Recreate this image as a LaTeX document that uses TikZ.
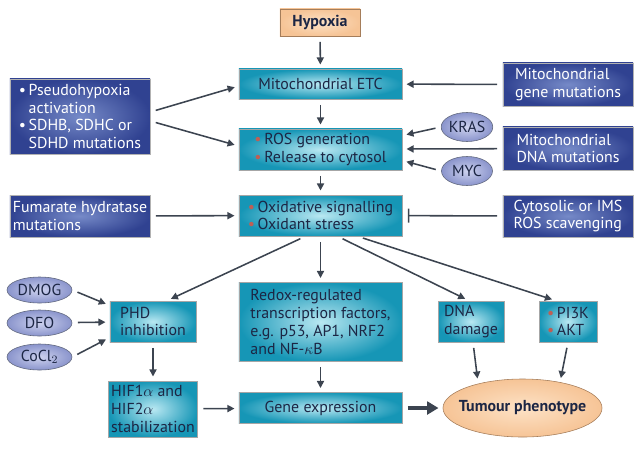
\documentclass[tikz,border=0pt]{standalone}
\usepackage{fontspec}
\setmainfont{PT Sans}
\usepackage{tikz}
\usetikzlibrary{shapes.geometric}
\usetikzlibrary{arrows.meta}
\usetikzlibrary{calc}

\definecolor{tealout}{RGB}{22,150,182}
\definecolor{tealin}{RGB}{185,232,242}
\definecolor{navyout}{RGB}{48,66,145}
\definecolor{navyin}{RGB}{118,138,200}
\definecolor{lavout}{RGB}{138,148,204}
\definecolor{lavin}{RGB}{205,210,238}
\definecolor{peachout}{RGB}{246,196,150}
\definecolor{peachin}{RGB}{253,226,198}
\definecolor{peachedge}{RGB}{165,125,90}
\definecolor{inkdark}{RGB}{28,38,68}
\definecolor{wiregray}{RGB}{60,68,80}
\definecolor{dotred}{RGB}{190,95,85}

\newcommand{\reddot}{{\color{dotred}\textbullet}\,}
\newcommand{\whitedot}{\textbullet\,}

\begin{document}
\begin{tikzpicture}[x=0.025cm, y=-0.025cm,
  every node/.style={font=\fontsize{11.3}{12.6}\selectfont, inner sep=2pt},
  tealbox/.style={rectangle, draw=gray!70, line width=0.4pt, shading=radial, inner color=tealin, outer color=tealout, text=inkdark, align=left},
  navybox/.style={rectangle, draw=gray!60, line width=0.4pt, shading=radial, inner color=navyin, outer color=navyout, text=white, align=left},
  drug/.style={ellipse, draw=inkdark!70, line width=0.4pt, shading=radial, inner color=lavin, outer color=lavout, text=inkdark, inner sep=0pt},
  peachbox/.style={draw=peachedge, line width=0.4pt, shading=radial, inner color=peachin, outer color=peachout, text=inkdark, font=\fontsize{11.3}{12.6}\selectfont\bfseries},
  wire/.style={draw=wiregray, line width=1.1pt, -{Triangle[length=5pt,width=5pt]}, shorten <=4pt, shorten >=3pt},
  bigwire/.style={draw=wiregray, line width=2.4pt, -{Triangle[length=8pt,width=9pt]}, shorten <=4pt, shorten >=3pt},
  blocker/.style={draw=wiregray, line width=1.1pt, -{Bar[width=10pt,line width=1.1pt]}, shorten <=4pt, shorten >=4pt}]
  \useasboundingbox (0,0) rectangle (642,448);
  % Boxes down the middle:
  \node[peachbox, rectangle, minimum width=2cm, minimum height=0.675cm] (hyp) at (320,22.5) {Hypoxia};
  \node[tealbox, minimum width=4.075cm, minimum height=0.75cm] (etc) at (320.5,84) {Mitochondrial ETC};
  \node[tealbox, minimum width=4.075cm, minimum height=1.025cm] (ros) at (320.5,149.5) {\reddot ROS generation\\\reddot Release to cytosol};
  \node[tealbox, minimum width=4.075cm, minimum height=1.025cm] (ox) at (320.5,215.5) {\reddot Oxidative signalling\\\reddot Oxidant stress};
  \node[tealbox, minimum width=4.075cm, minimum height=1.975cm] (redox) at (320.5,322) {Redox-regulated\\transcription factors,\\e.g. p53, AP1, NRF2\\and NF-$\kappa$B};
  \node[tealbox, minimum width=4.075cm, minimum height=0.775cm] (gene) at (320.5,408) {Gene expression};
  % Side boxes:
  \node[navybox, minimum width=3.5cm, minimum height=1.875cm] (pseudo) at (80,116.5) {\whitedot Pseudohypoxia\\\phantom{\whitedot}activation\\\whitedot SDHB, SDHC or\\\phantom{\whitedot}SDHD mutations};
  \node[navybox, minimum width=3.5cm, minimum height=1.05cm] (fum) at (80,216) {Fumarate hydratase\\mutations};
  \node[navybox, minimum width=3.25cm, minimum height=1.075cm] (mgene) at (568,84.5) {Mitochondrial\\gene mutations};
  \node[navybox, minimum width=3.25cm, minimum height=1.075cm] (mdna) at (568,148.5) {Mitochondrial\\DNA mutations};
  \node[navybox, minimum width=3.25cm, minimum height=1.05cm] (cyto) at (568,216) {Cytosolic or IMS\\ROS scavenging};
  \node[drug, minimum width=1.275cm, minimum height=0.725cm] (kras) at (467,127) {KRAS};
  \node[drug, minimum width=1.275cm, minimum height=0.725cm] (myc) at (467,171) {MYC};
  % Lower row:
  \node[drug, minimum width=1.625cm, minimum height=0.65cm] (dmog) at (39.5,290) {DMOG};
  \node[drug, minimum width=1.625cm, minimum height=0.65cm] (dfo) at (39.5,323) {DFO};
  \node[drug, minimum width=1.625cm, minimum height=0.65cm] (cocl) at (39.5,357) {CoCl$_2$};
  \node[tealbox, minimum width=2.15cm, minimum height=1.025cm] (phd) at (153,321.5) {PHD\\inhibition};
  \node[tealbox, minimum width=2.15cm, minimum height=1.4cm] (hif) at (153,409) {HIF1$\alpha$ and\\HIF2$\alpha$\\stabilization};
  \node[tealbox, minimum width=1.65cm, minimum height=1.025cm] (dna) at (471,321.5) {DNA\\damage};
  \node[tealbox, minimum width=1.45cm, minimum height=1.025cm] (pi3k) at (568,321.5) {\reddot PI3K\\\reddot AKT};
  \node[peachbox, ellipse, inner sep=0pt, minimum width=3.975cm, minimum height=1.45cm,
    label={[text=inkdark, font=\fontsize{11.3}{12.6}\selectfont\bfseries]center:Tumour phenotype}] (tum) at (522.5,408) {};
  % Wires:
  \draw[wire] (hyp) -- (etc);
  \draw[wire] (etc) -- (ros);
  \draw[wire] (ros) -- (ox);
  \draw[wire] (ox) -- (redox);
  \draw[wire] (redox) -- (gene);
  \draw[wire] ($(pseudo.east)+(0,-4.5)$) -- ($(etc.west)+(0,2)$);
  \draw[wire] ($(pseudo.east)+(0,4.5)$) -- ($(ros.west)+(0,-3.5)$);
  \draw[wire] (fum) -- (ox);
  \draw[wire] (mgene) -- (etc);
  \draw[wire] (kras.west) -- ($(ros.east)+(0,-14)$);
  \draw[wire] (mdna) -- ($(ros.east)+(0,-0.5)$);
  \draw[wire] (myc.west) -- ($(ros.east)+(0,11)$);
  \draw[blocker] (cyto) -- (ox);
  \draw[wire] ($(ox.south)+(-15,0)$) -- ($(phd.north)+(14,0)$);
  \draw[wire] ($(ox.south)+(17,0)$) -- ($(dna.north)+(-2,0)$);
  \draw[wire] ($(ox.south)+(37,0)$) -- ($(pi3k.north)+(-12,0)$);
  \draw[wire] (dmog.east) -- ($(phd.west)+(0,-16)$);
  \draw[wire] (dfo) -- (phd);
  \draw[wire] (cocl.east) -- ($(phd.west)+(0,16)$);
  \draw[wire] (phd) -- (hif);
  \draw[wire] (hif) -- (gene);
  \draw[wire] ($(dna.south)+(2,0)$) -- ($(tum.north)+(-44.5,4)$);
  \draw[wire] (pi3k.south) -- ($(tum.north)+(37.5,3.5)$);
  \draw[bigwire] (gene) -- (tum);
\end{tikzpicture}
\end{document}
